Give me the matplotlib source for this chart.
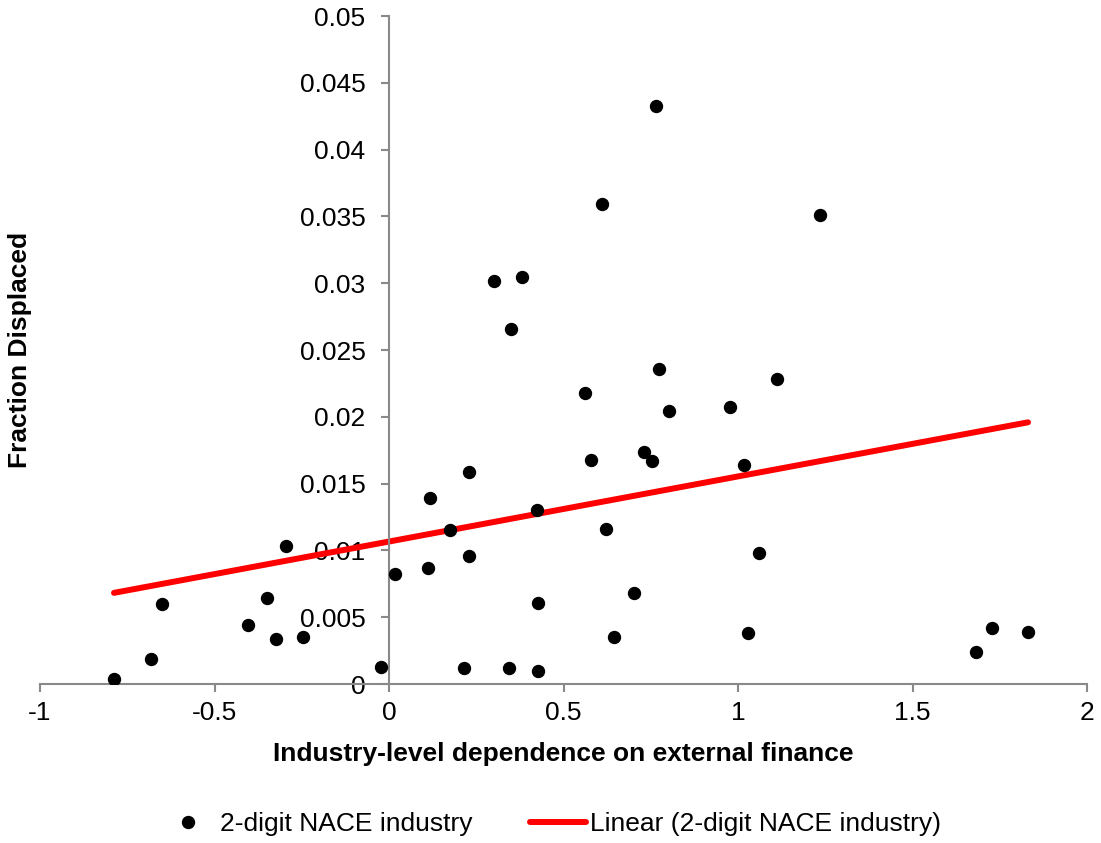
import numpy as np
import matplotlib.pyplot as plt

# industry-level dependence on external finance vs fraction displaced
ext_finance = [-0.788, -0.682, -0.650, -0.404, -0.350, -0.324, -0.295, -0.246,
               -0.023, 0.017, 0.112, 0.117, 0.175, 0.215, 0.229, 0.229,
               0.301, 0.344, 0.350, 0.381, 0.424, 0.427, 0.427, 0.562,
               0.579, 0.610, 0.622, 0.645, 0.702, 0.731, 0.754, 0.765,
               0.774, 0.802, 0.977, 1.017, 1.029, 1.060, 1.112, 1.235,
               1.682, 1.728, 1.831]
frac_displaced = [0.0004, 0.0019, 0.0060, 0.0044, 0.0064, 0.0034, 0.0103, 0.0035,
                  0.0013, 0.0082, 0.0087, 0.0139, 0.0115, 0.0012, 0.0159, 0.0096,
                  0.0302, 0.0012, 0.0266, 0.0305, 0.0130, 0.0061, 0.0010, 0.0218,
                  0.0168, 0.0359, 0.0116, 0.0035, 0.0068, 0.0174, 0.0167, 0.0433,
                  0.0236, 0.0204, 0.0207, 0.0164, 0.0038, 0.0098, 0.0228, 0.0351,
                  0.0024, 0.0042, 0.0039]

x_ticks = [-1, -0.5, 0, 0.5, 1, 1.5, 2]
x_tick_labels = ["-1", "-0.5", "0", "0.5", "1", "1.5", "2"]
y_ticks = [0, 0.005, 0.01, 0.015, 0.02, 0.025, 0.03, 0.035, 0.04, 0.045, 0.05]
y_tick_labels = ["0", "0.005", "0.01", "0.015", "0.02", "0.025", "0.03",
                 "0.035", "0.04", "0.045", "0.05"]

plt.rcParams["font.family"] = ["Liberation Sans", "DejaVu Sans"]
axis_grey = "#898989"

fig = plt.figure(figsize=(11.01, 8.43), dpi=100)
ax = fig.add_axes([40 / 1101, 1 - 684 / 843, 1047 / 1101, 668 / 843])

x = np.array(ext_finance)
y = np.array(frac_displaced)
ax.plot(x, y, "o", color="black", markersize=8.6, label="2-digit NACE industry", zorder=3)

slope, intercept = np.polyfit(x, y, 1)
xs = np.array([x.min(), x.max()])
ax.plot(xs, slope * xs + intercept, color="#ff0000", linewidth=4.3,
        solid_capstyle="round", label="Linear (2-digit NACE industry)", zorder=2)

ax.set_xlim(-1, 2)
ax.set_ylim(0, 0.05)
ax.set_xticks(x_ticks)
ax.set_xticklabels(x_tick_labels)
ax.set_yticks(y_ticks)
ax.set_yticklabels(y_tick_labels)

ax.spines["left"].set_position(("data", 0))
ax.spines["top"].set_visible(False)
ax.spines["right"].set_visible(False)
for side in ["left", "bottom"]:
    ax.spines[side].set_color(axis_grey)
    ax.spines[side].set_linewidth(1.5)
ax.tick_params(axis="both", direction="out", length=6, width=1.5, color=axis_grey,
               labelsize=19, labelcolor="black")
ax.tick_params(axis="y", pad=11)
ax.tick_params(axis="x", pad=6)

ax.set_xlabel("Industry-level dependence on external finance", fontsize=19, fontweight="bold")
ax.xaxis.set_label_coords(0.5, -0.087)
ax.set_ylabel("Fraction Displaced", fontsize=19, fontweight="bold")
ax.yaxis.set_label_coords(-0.0076, 0.5)

fig.legend(loc="center", bbox_to_anchor=(0.5, 1 - 824 / 843), ncol=2, frameon=False,
           fontsize=19, handlelength=2.1, handletextpad=0.15, columnspacing=2.2)

fig.savefig("out.png", dpi=100)
